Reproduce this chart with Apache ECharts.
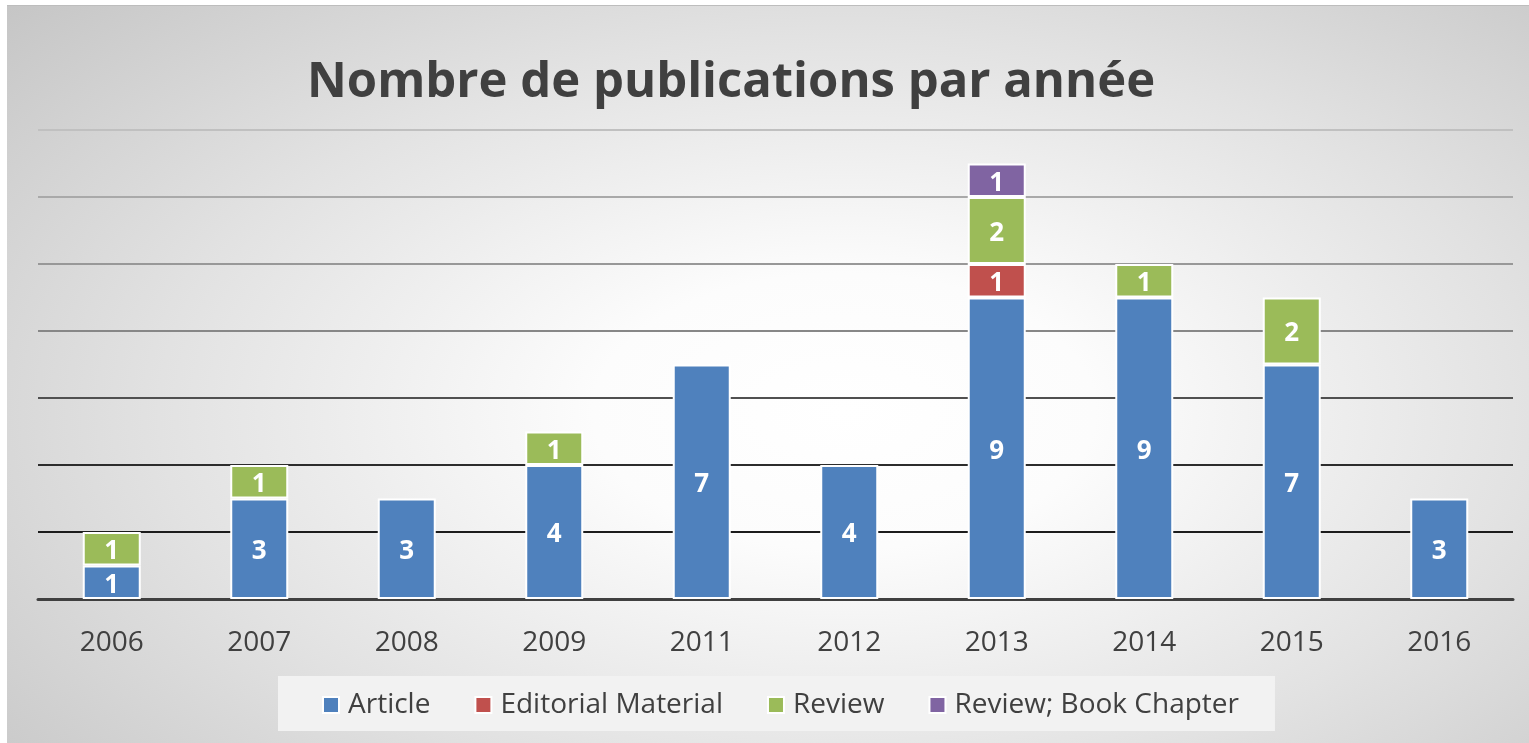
<!DOCTYPE html>
<html>
<head>
<meta charset="utf-8">
<script src="https://cdn.jsdelivr.net/npm/echarts@6/dist/echarts.min.js"></script>
<style>
html,body{margin:0;padding:0;background:#fff;width:1529px;height:743px;overflow:hidden;}
#frame{position:absolute;left:7px;top:5px;width:1522px;height:737px;
 background:radial-gradient(ellipse 75% 85% at 55% 55%, #ffffff 0%, #fcfcfc 22%, #e2e2e2 60%, #c4c4c4 100%);
 border-top:1px solid #bdbdbd;}
#chart{position:absolute;left:0;top:0;width:1529px;height:743px;}
</style>
</head>
<body>
<div id="frame"></div>
<div id="chart"></div>
<script>
const titleText = 'Nombre de publications par année';
const years = ['2006','2007','2008','2009','2011','2012','2013','2014','2015','2016'];
const seriesNames = ['Article','Editorial Material','Review','Review; Book Chapter'];
const article   = [1, 3, 3, 4, 7, 4, 9, 9, 7, 3];
const editorial = [null, null, null, null, null, null, 1, null, null, null];
const review    = [1, 1, null, 1, null, null, 2, 1, 2, null];
const bookChap  = [null, null, null, null, null, null, 1, null, null, null];
const yMax = 14, yStep = 2;

const colors = ['#4F81BD','#C0504D','#9BBB59','#8064A2'];
const valuesList = [article, editorial, review, bookChap];
const FONT = '"Open Sans", sans-serif';

const chart = echarts.init(document.getElementById('chart'), null, {renderer:'canvas'});
chart.setOption({
  backgroundColor: 'transparent',
  animation: false,
  title: {
    text: titleText,
    left: 302, top: 54,
    textStyle: {fontFamily: FONT, fontWeight: 'bold', fontSize: 49, color: '#404040'}
  },
  legend: {
    data: seriesNames,
    left: 278, top: 676,
    backgroundColor: '#f2f2f2',
    padding: [15, 36, 12, 44],
    itemGap: 44,
    itemWidth: 16, itemHeight: 16,
    icon: 'rect',
    textStyle: {fontFamily: FONT, fontSize: 28, color: '#404040', padding: [0,0,0,4]}
  },
  grid: {left: 38, right: 16, top: 130, bottom: 144, containLabel: false},
  xAxis: {
    type: 'category',
    data: years,
    axisTick: {show: false},
    axisLine: {lineStyle: {color: '#404040', width: 3}},
    axisLabel: {fontFamily: FONT, fontSize: 28, color: '#404040', margin: 30}
  },
  yAxis: {
    type: 'value', min: 0, max: yMax, interval: yStep,
    axisLabel: {show: false},
    axisLine: {show: false},
    axisTick: {show: false},
    splitLine: {lineStyle: {width: 2, color: ['#303030','#1c1c1c','#2c2c2c','#505050','#878787','#989898','#a9a9a9','#c0c0c0']}}
  },
  series: seriesNames.map((name, i) => ({
    name: name,
    type: 'bar',
    stack: 'total',
    barWidth: 58,
    data: valuesList[i],
    itemStyle: {color: colors[i], borderColor: '#ffffff', borderWidth: 2},
    label: {show: true, position: 'inside', offset: [0, 3], color: '#ffffff', fontFamily: FONT, fontWeight: 'bold', fontSize: 26}
  }))
});
</script>
</body>
</html>
